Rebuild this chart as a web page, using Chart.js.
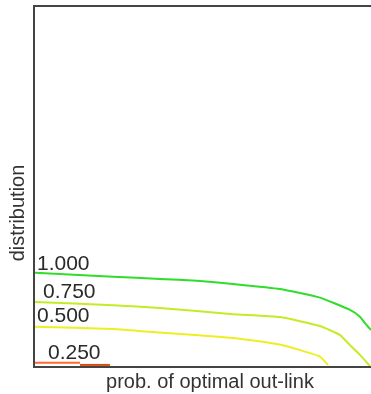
<!DOCTYPE html>
<html>
<head>
<meta charset="utf-8">
<script src="https://cdn.jsdelivr.net/npm/chart.js@4"></script>
<style>
  html, body { margin: 0; padding: 0; background: #fff; }
  #wrap { width: 371px; height: 394px; }
</style>
</head>
<body>
<div id="wrap"><canvas id="contourChart"></canvas></div>
<script>
// contour levels and their traced curves (x = prob. of optimal out-link, y = distribution)
const levels = ['1.000', '0.750', '0.500', '0.250'];

const level100 = [[0,0.259],[0.232,0.248],[0.372,0.242],[0.482,0.237],[0.589,0.228],[0.729,0.214],
                  [0.848,0.190],[0.9375,0.156],[0.967,0.137],[0.982,0.119],[1.0,0.10]];
const level075 = [[0,0.178],[0.232,0.169],[0.372,0.161],[0.589,0.144],[0.729,0.136],[0.848,0.111],
                  [0.908,0.086],[0.9375,0.058],[0.967,0.031],[0.997,0]];
const level050 = [[0,0.109],[0.232,0.103],[0.372,0.093],[0.589,0.078],[0.72,0.061],[0.789,0.044],
                  [0.848,0.026],[0.872,0.003]];
const level025a = [[0,0.009],[0.134,0.009]];
const level025b = [[0.134,0.003],[0.223,0.003]];

function pts(arr) { return arr.map(p => ({x: p[0], y: p[1]})); }

function line(data, color) {
    return {
        data: pts(data),
        showLine: true,
        borderColor: color,
        borderWidth: 2,
        pointRadius: 0,
        tension: 0.15,
        fill: false
    };
}

// label offsets (px) from the first point of each curve
const labelOffsets = [[2,-3],[8,-4],[2,-5],[13,-4]];

const framePlugin = {
    id: 'frame',
    afterDatasetsDraw(chart) {
        const ctx = chart.ctx;
        const a = chart.chartArea;
        const xs = chart.scales.x, ys = chart.scales.y;
        ctx.save();
        ctx.strokeStyle = '#444';
        ctx.lineWidth = 2;
        ctx.beginPath();
        ctx.moveTo(a.right + 1, a.top);
        ctx.lineTo(a.left - 1, a.top);
        ctx.lineTo(a.left - 1, a.bottom + 1);
        ctx.lineTo(a.right + 1, a.bottom + 1);
        ctx.stroke();

        ctx.fillStyle = '#2a2a2a';
        ctx.font = '21px "Liberation Sans", Arial, sans-serif';
        ctx.textBaseline = 'alphabetic';
        ctx.textAlign = 'left';
        const starts = [level100[0], level075[0], level050[0], level025a[0]];
        levels.forEach((t, i) => {
            const px = xs.getPixelForValue(starts[i][0]) + labelOffsets[i][0];
            const py = ys.getPixelForValue(starts[i][1]) + labelOffsets[i][1];
            ctx.fillText(t, px, py);
        });

        ctx.fillStyle = '#333';
        ctx.font = '20px "Liberation Sans", Arial, sans-serif';
        ctx.textAlign = 'center';
        ctx.fillText('prob. of optimal out-link', 210, 388);
        ctx.translate(24, 213);
        ctx.rotate(-Math.PI / 2);
        ctx.fillText('distribution', 0, 0);
        ctx.restore();
    }
};

new Chart(document.getElementById('contourChart').getContext('2d'), {
    type: 'scatter',
    data: {
        datasets: [
            line(level100, '#2fdd2a'),
            line(level075, '#c4ec26'),
            line(level050, '#eeee22'),
            line(level025a, '#ff6a30'),
            line(level025b, '#d84a0e')
        ]
    },
    options: {
        responsive: true,
        maintainAspectRatio: false,
        animation: false,
        layout: { padding: { left: 35, top: 6, right: 0, bottom: 28 } },
        scales: {
            x: { type: 'linear', min: 0, max: 1, display: false },
            y: { type: 'linear', min: 0, max: 1, display: false }
        },
        plugins: {
            legend: { display: false },
            tooltip: { enabled: false }
        }
    },
    plugins: [framePlugin]
});
</script>
</body>
</html>
